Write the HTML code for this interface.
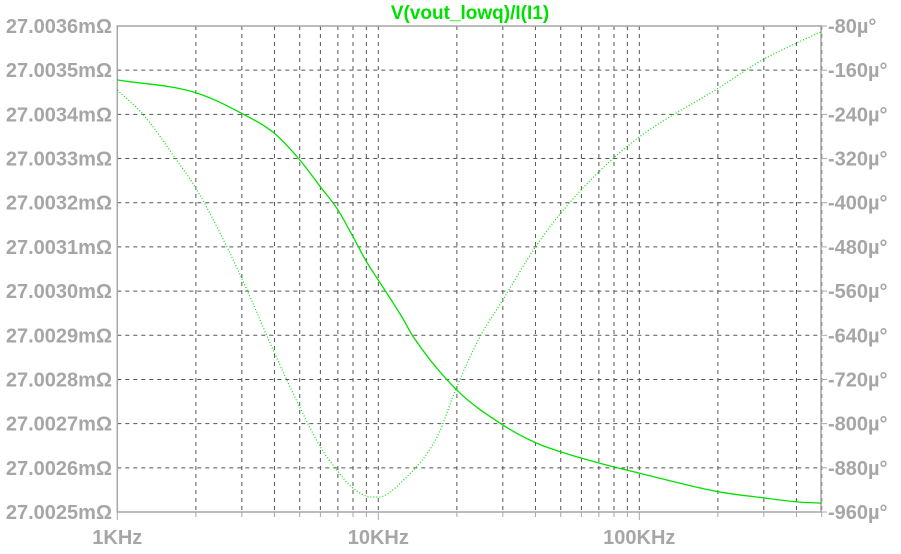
<!DOCTYPE html>
<html><head><meta charset="utf-8"><style>
body{margin:0;background:#fff;}
svg text{font-family:"Liberation Sans",Arial,sans-serif;font-weight:bold;font-size:20px;fill:#a6a6a6;}
</style></head><body>
<svg id="chart" width="901" height="549" xmlns="http://www.w3.org/2000/svg">
<rect width="901" height="549" fill="#fff"/>
<text x="470" y="19" text-anchor="middle" style="fill:#00e000;font-size:19px">V(vout_lowq)/I(I1)</text>
<g id="grid"></g><g id="axes"></g><g id="series"></g>
</svg>
<script>
const magFreqs = [1000,2000,3000,4000,5000,6000,7000,8000,9000,10000,12300,13600,20000,30000,40000,50000,70000,100000,200000,300000,400000,500000];
const magVals = [27.003478,27.003449,27.003402,27.003357,27.003297,27.003236,27.003184,27.003123,27.003067,27.003025,27.002942,27.002897,27.002776,27.002697,27.002657,27.002636,27.002611,27.002588,27.002546,27.002532,27.002523,27.00252];
const phaseFreqs = [1000,1260,1690,2020,2630,3140,3960,5000,6000,6930,8000,9500,10000,12500,16800,20000,24500,30000,40000,50000,70000,100000,200000,300000,400000,500000];
const phaseVals = [-196,-241,-323,-377,-480,-558,-667,-770,-842,-884,-917,-933,-933,-902,-824,-733,-643,-576,-480,-419,-344,-281,-193,-140,-111,-90];
const leftTicks = ["27.0036mΩ","27.0035mΩ","27.0034mΩ","27.0033mΩ","27.0032mΩ","27.0031mΩ","27.0030mΩ","27.0029mΩ","27.0028mΩ","27.0027mΩ","27.0026mΩ","27.0025mΩ"];
const rightTicks = ["-80µ°","-160µ°","-240µ°","-320µ°","-400µ°","-480µ°","-560µ°","-640µ°","-720µ°","-800µ°","-880µ°","-960µ°"];
const xLabels = ["1KHz","10KHz","100KHz"];

const L=117.3,R=821,T=26,B=512,DEC=261;
const NS="http://www.w3.org/2000/svg";
function xs(f){return L+Math.log10(f/1000)*DEC;}
function yl(v){return T+(27.0036-v)/0.0011*(B-T);}
function yr(v){return T+(-80-v)/880*(B-T);}
function mk(tag,attrs,parent){const e=document.createElementNS(NS,tag);for(const k in attrs)e.setAttribute(k,attrs[k]);document.getElementById(parent).appendChild(e);return e;}
for(let d=0;d<3;d++)for(let m=1;m<=9;m++){
  const f=1000*Math.pow(10,d)*m; if(f>500000)break; const x=xs(f);
  if(!(d==0&&m==1)){const g=mk('line',{x1:x,x2:x,y1:T,y2:B,stroke:'#555','stroke-dasharray':'4,4','stroke-width':1},'grid');
  
  }
  const t=mk('line',{x1:x,x2:x,y1:B,y2:B+(m==1?8:5),stroke:'#a6a6a6'},'axes');
  
  
}
leftTicks.forEach((lab,i)=>{
  const y=T+i*(B-T)/11;
  if(i>0&&i<11){const g=mk('line',{x1:L,x2:R,y1:y,y2:y,stroke:'#555','stroke-dasharray':'4,4'},'grid');
  
  }
  const tl=mk('text',{x:112,y:y+7,'text-anchor':'end'},'axes');tl.textContent=lab;
  
  
  const tr=mk('text',{x:828,y:y+7},'axes');tr.textContent=rightTicks[i];
  
  
  const tk=mk('line',{x1:R,x2:R+6,y1:y,y2:y,stroke:'#a6a6a6'},'axes');
  
  
});
xLabels.forEach((lab,i)=>{
  const t=mk('text',{x:xs(1000*Math.pow(10,i)),y:544,'text-anchor':'middle'},'axes');t.textContent=lab;
  
  
});
const fr=mk('rect',{x:L,y:T,width:R-L,height:B-T,fill:'none',stroke:'#a6a6a6','stroke-width':1.5},'axes');


// monotone cubic (Fritsch-Carlson) sampled densely
function path(pts){
  const n=pts.length,x=pts.map(p=>p[0]),y=pts.map(p=>p[1]);
  const dl=[],m=[];
  for(let i=0;i<n-1;i++)dl.push((y[i+1]-y[i])/(x[i+1]-x[i]));
  m[0]=dl[0];m[n-1]=dl[n-2];
  for(let i=1;i<n-1;i++){m[i]=(dl[i-1]*dl[i]<=0)?0:(dl[i-1]+dl[i])/2;}
  for(let i=0;i<n-1;i++){if(dl[i]===0){m[i]=0;m[i+1]=0;continue;}
    const a=m[i]/dl[i],b=m[i+1]/dl[i],s=a*a+b*b;
    if(s>9){const t=3/Math.sqrt(s);m[i]=t*a*dl[i];m[i+1]=t*b*dl[i];}}
  let d='M'+x[0]+','+y[0];
  for(let i=0;i<n-1;i++){const h=x[i+1]-x[i];
    d+=' C'+(x[i]+h/3)+','+(y[i]+m[i]*h/3)+' '+(x[i+1]-h/3)+','+(y[i+1]-m[i+1]*h/3)+' '+x[i+1]+','+y[i+1];}
  return d;}
const mp=mk('path',{d:path(magFreqs.map((f,i)=>[xs(f),yl(magVals[i])])),fill:'none',stroke:'#00e000','stroke-width':1.3},'series');


const pp=mk('path',{d:path(phaseFreqs.map((f,i)=>[xs(f),yr(phaseVals[i])])),fill:'none',stroke:'#00e000','stroke-width':1.2,'stroke-dasharray':'1,2'},'series');


</script>
</body></html>
